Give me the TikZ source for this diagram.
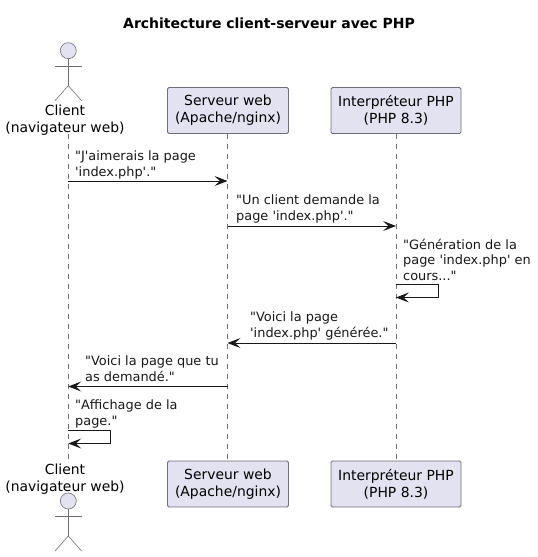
\documentclass[tikz,border=0pt]{standalone}
\usepackage{fontspec}
\newfontfamily\dejavu{DejaVu Sans}
\usetikzlibrary{positioning,arrows.meta}
\definecolor{boxfill}{HTML}{E2E2F0}
\definecolor{boxline}{HTML}{6E6E78}
\definecolor{msgline}{HTML}{181818}
\tikzset{
	boite/.style={draw=boxline,fill=boxfill,rounded corners=1.5pt,line width=0.75pt,minimum width=121pt,minimum height=46pt,inner sep=0pt,align=center,font=\dejavu\fontsize{13.9}{17}\selectfont},
	nomacteur/.style={inner sep=0pt,align=center,font=\dejavu\fontsize{13.9}{17}\selectfont},
	vie/.style={draw=boxline,line width=0.6pt,dash pattern=on 5pt off 5pt},
	msg/.style={draw=msgline,line width=0.85pt,-{Stealth[length=13pt,width=10pt,inset=5.5pt]}},
	texte/.style={inner sep=0pt,anchor=north west,align=left,text=msgline,font=\dejavu\fontsize{12.9}{15.5}\selectfont},
	corps/.style={draw=boxline,line width=0.6pt},
	tete/.style={draw=boxline,fill=boxfill,line width=0.6pt,circle,minimum size=16pt,inner sep=0pt}
}
\newcommand{\acteur}[2]{
	\node [tete] (#1tete) at (68.3,#2) {};
	\coordinate (#1bas) at (68.3,#2+35);
	\coordinate (#1bg) at (55,#2+50);
	\coordinate (#1bd) at (81.6,#2+50);
	\coordinate (#1mg) at (55,#2+15.5);
	\coordinate (#1md) at (81.6,#2+15.5);
	\draw [corps] (#1tete) -- (#1bas);
	\draw [corps] (#1mg) -- (#1md);
	\draw [corps] (#1bg) -- (#1bas) -- (#1bd);
}
\begin{document}
\begin{tikzpicture}[x=1pt,y=-1pt]
	\useasboundingbox (0,0) rectangle (538,557);
	\node [inner sep=0pt,font=\dejavu\fontsize{14}{16}\selectfont\bfseries] (titre) at (269,23) {Architecture client-serveur avec PHP};

	% haut
	\acteur{ch}{50.7}
	\node [nomacteur] (clienthaut) at (65,120) {Client\\(navigateur web)};
	\node [boite] (serveurhaut) at (228,110.5) {Serveur web\\(Apache/nginx)};
	\node [boite,minimum width=130pt] (phphaut) at (396,110.5) {Interpréteur PHP\\(PHP 8.3)};

	% bas
	\acteur{cb}{501}
	\node [nomacteur] (clientbas) at (65,479) {Client\\(navigateur web)};
	\node [boite] (serveurbas) at (228,484) {Serveur web\\(Apache/nginx)};
	\node [boite,minimum width=130pt] (phpbas) at (396,484) {Interpréteur PHP\\(PHP 8.3)};

	% lignes de vie
	\coordinate (vch) at (68.3,134);
	\coordinate (vcb) at (68.3,460);
	\draw [vie] (vch) -- (vcb);
	\draw [vie] ([xshift=-0.5pt]serveurhaut.south) -- ([xshift=-0.5pt]serveurbas.north);
	\draw [vie] (phphaut) ++(0,23) coordinate (vph) (phpbas) ++(0,-23.5) coordinate (vpb);
	\draw [vie] (vph) -- (vpb);

	% messages
	\coordinate (c1) at (68.3,181);
	\coordinate (s1) at (227.5,181);
	\draw [msg] (c1) -- (s1);
	\node [texte] (t1) at (75,150.7) {"J'aimerais la page\\'index.php'."};

	\coordinate (s2) at (227.5,226);
	\coordinate (p2) at (396,226);
	\draw [msg] (s2) -- (p2);
	\node [texte] (t2) at (236,194.5) {"Un client demande la\\page 'index.php'."};

	\coordinate (p3a) at (396,284.5);
	\coordinate (p3b) at (438.5,284.5);
	\coordinate (p3c) at (438.5,297.5);
	\coordinate (p3d) at (396,297.5);
	\draw [msg] (p3a) -- (p3b) -- (p3c) -- (p3d);
	\node [texte] (t3) at (403,238.7) {"Génération de la\\page 'index.php' en\\cours..."};

	\coordinate (p4) at (396,343);
	\coordinate (s4) at (227.5,343);
	\draw [msg] (p4) -- (s4);
	\node [texte] (t4) at (250,311.5) {"Voici la page\\'index.php' générée."};

	\coordinate (s5) at (227.5,386.5);
	\coordinate (c5) at (68.3,386.5);
	\draw [msg] (s5) -- (c5);
	\node [texte] (t5) at (85,355.5) {"Voici la page que tu\\as demandé."};

	\coordinate (c6a) at (68.3,430.5);
	\coordinate (c6b) at (110.5,430.5);
	\coordinate (c6c) at (110.5,443.5);
	\coordinate (c6d) at (68.3,443.5);
	\draw [msg] (c6a) -- (c6b) -- (c6c) -- (c6d);
	\node [texte] (t6) at (75,399.7) {"Affichage de la\\page."};
\end{tikzpicture}
\end{document}
